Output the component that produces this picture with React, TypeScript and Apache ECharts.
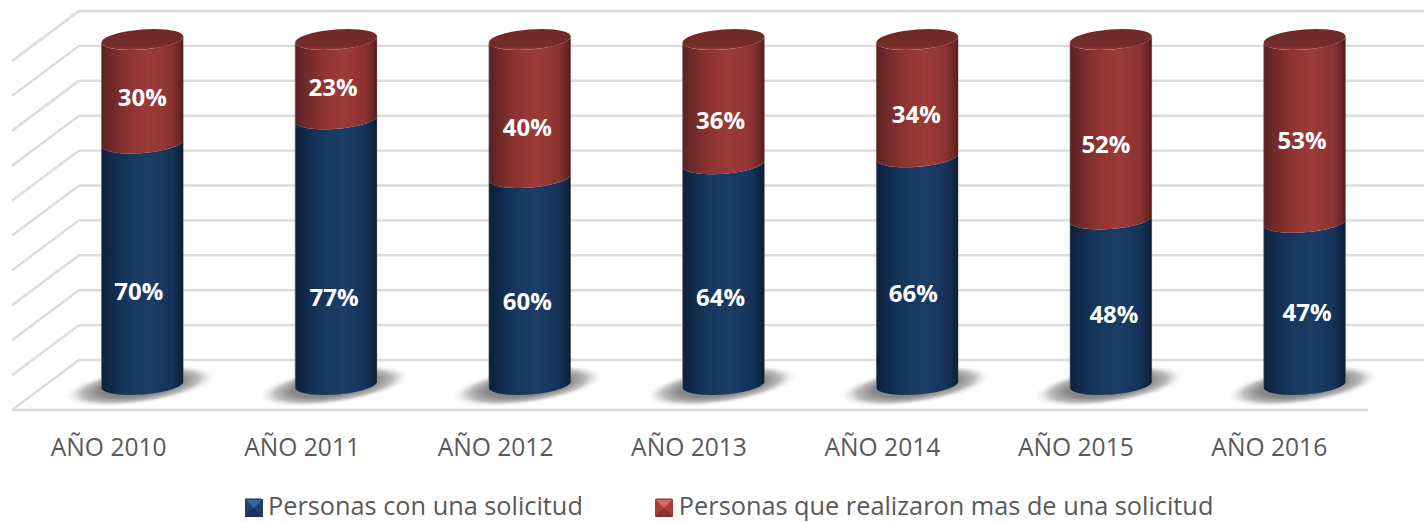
import React, { useEffect, useRef } from "react";
import * as echarts from "echarts";

const categories = ["AÑO 2010", "AÑO 2011", "AÑO 2012", "AÑO 2013", "AÑO 2014", "AÑO 2015", "AÑO 2016"];
const oneRequest = [70, 77, 60, 64, 66, 48, 47];
const severalRequests = [30, 23, 40, 36, 34, 52, 53];
const wallTicks = [0, 10, 20, 30, 40, 50, 60, 70, 80, 90, 100];
const seriesNames = ["Personas con una solicitud", "Personas que realizaron mas de una solicitud"];

// Hand placement of the data labels relative to the segment's middle (px)
const blueNudge = [[-3.5, 27], [-2, 45], [-2.5, 19], [-3, 22], [-4, 22], [3, 12], [2.5, 8]];
const redNudge = [[0, 5], [-3, 7], [-2.5, 17.5], [-3, 18], [-1, 15], [-5, 14], [-2.5, 9]];

const FONT = "'Open Sans'";
const TILT = 4.5;
const RAD = (TILT * Math.PI) / 180;
const WALL_DX = 69;
const WALL_DY = 50;
const FLOOR_EXTRA = 2;
const STEPS = 40;

const hGrad = (stops: string[]) => ({
  type: "linear", x: 0, y: 0, x2: 1, y2: 0,
  colorStops: stops.map((color, i) => ({ offset: [0, 0.12, 0.3, 0.58, 0.85, 0.95, 1][i], color })),
});
const blueGrad = hGrad(["#0c2138", "#10294a", "#16365c", "#1b3d66", "#15335a", "#102642", "#0b1c30"]);
const redGrad = hGrad(["#5a2220", "#6e2a28", "#8a3230", "#9d3b39", "#8b3331", "#6c2725", "#521c1a"]);

// A point on the tilted ellipse; a = 0 is the right end, a = PI the left end, 0..PI runs through the front
function rim(cx: number, cy: number, rx: number, ry: number, a: number) {
  const ex = rx * Math.cos(a);
  const ey = ry * Math.sin(a);
  return [cx + ex * Math.cos(RAD) + ey * Math.sin(RAD), cy - ex * Math.sin(RAD) + ey * Math.cos(RAD)];
}
function arcPoints(cx: number, cy: number, rx: number, ry: number, a0: number, a1: number) {
  const pts: number[][] = [];
  for (let k = 0; k <= STEPS; k++) pts.push(rim(cx, cy, rx, ry, a0 + ((a1 - a0) * k) / STEPS));
  return pts;
}

function cylinder(kind: "blue" | "red") {
  return (_p: any, api: any) => {
    const i = api.value(0);
    const from = api.value(1);
    const to = api.value(2);
    const cx = api.coord([i, 0])[0];
    const yBot = api.coord([i, from])[1];
    const yTop = api.coord([i, to])[1];
    const rx = api.size([1, 0])[0] * 0.2117;
    const ry = rx * 0.244;
    const nudge = (kind === "blue" ? blueNudge : redNudge)[i];
    const children: any[] = [];
    if (kind === "blue") {
      children.push({
        type: "ellipse",
        shape: { cx: 0, cy: 0, rx: rx * 1.9, ry: ry * 1.85 },
        x: cx - 2, y: yBot + 1.5, rotation: (8 * Math.PI) / 180,
        style: {
          fill: {
            type: "radial", x: 0.5, y: 0.5, r: 0.5,
            colorStops: [
              { offset: 0, color: "#707070" },
              { offset: 0.55, color: "#8a8a8a" },
              { offset: 0.76, color: "#bcbcbc" },
              { offset: 1, color: "rgba(255,255,255,0)" },
            ],
          },
        },
      });
    }
    const bodyPts = [...arcPoints(cx, yTop, rx, ry, Math.PI, 0), ...arcPoints(cx, yBot, rx, ry, 0, Math.PI)];
    children.push({
      type: "polygon",
      shape: { points: bodyPts },
      style: { fill: kind === "blue" ? blueGrad : redGrad },
    });
    const l0 = rim(cx, yTop, rx, ry, Math.PI);
    const l1 = rim(cx, yBot, rx, ry, Math.PI);
    const r0 = rim(cx, yTop, rx, ry, 0);
    const r1 = rim(cx, yBot, rx, ry, 0);
    children.push(
      { type: "line", shape: { x1: l0[0], y1: l0[1], x2: l1[0], y2: l1[1] }, style: { stroke: "rgba(110,110,110,0.6)", lineWidth: 1 } },
      { type: "line", shape: { x1: r0[0], y1: r0[1], x2: r1[0], y2: r1[1] }, style: { stroke: "rgba(110,110,110,0.35)", lineWidth: 1 } }
    );
    if (kind === "red") {
      children.push({
        type: "polygon",
        shape: { points: arcPoints(cx, yTop, rx, ry, 0, Math.PI * 2) },
        style: {
          fill: {
            type: "linear", x: 0, y: 0, x2: 0, y2: 1,
            colorStops: [
              { offset: 0, color: "#6e2a28" },
              { offset: 0.8, color: "#742c2a" },
              { offset: 0.93, color: "#8e3533" },
              { offset: 1, color: "#a33e3b" },
            ],
          },
        },
      });
    }
    children.push({
      type: "text",
      x: cx + nudge[0],
      y: (yBot + yTop) / 2 + nudge[1],
      style: {
        text: `${to - from}%`,
        fill: "#ffffff",
        font: `bold 24px ${FONT}`,
        align: "center",
        verticalAlign: "middle",
      },
    });
    return { type: "group", children };
  };
}

function wall(params: any, api: any) {
  const v = api.value(0);
  const y = api.coord([0, v])[1];
  const left = params.coordSys.x;
  const right = left + params.coordSys.width;
  const style = { stroke: "#dcdcdc", lineWidth: 2.4, fill: "none" };
  const children: any[] = [
    { type: "line", shape: { x1: left, y1: y, x2: left + 67, y2: y - WALL_DY }, style },
    { type: "line", shape: { x1: left + 67, y1: y - WALL_DY, x2: right + WALL_DX, y2: y - WALL_DY }, style },
  ];
  if (v === 0) {
    children.push({ type: "line", shape: { x1: left, y1: y, x2: right + FLOOR_EXTRA, y2: y }, style });
  }
  return { type: "group", children };
}

function bevel(x: number, y: number, s: number, c: string[]) {
  const tri = (pts: number[][], fill: string) => ({ type: "polygon", z: 100, shape: { points: pts }, style: { fill } });
  const mid = [x + s * 0.5, y + s * 0.5];
  return [
    tri([[x, y], [x + s, y], [x + s, y + s], [x, y + s]], c[1]),
    tri([[x, y + s], [x + s, y + s], mid], c[2]),
    tri([[x + 1, y + 1], [x + s - 1, y + 1], mid], c[0]),
  ];
}

export default function App() {
  const ref = useRef<HTMLDivElement>(null);
  useEffect(() => {
    const chart = echarts.init(ref.current!, undefined, { renderer: "svg" });
    const blueRows = oneRequest.map((v, i) => [i, 0, v]);
    const redRows = severalRequests.map((v, i) => [i, oneRequest[i], oneRequest[i] + v]);
    chart.setOption({
      animation: false,
      backgroundColor: "#ffffff",
      grid: [
        { left: 12, right: 58, top: 61, bottom: 112 },
        { left: 45.5, right: 22.5, top: 39.5, bottom: 137.5 },
      ],
      xAxis: [
        {
          type: "category", gridIndex: 0, data: categories,
          axisLine: { show: false },
          axisTick: { show: false },
          axisLabel: { color: "#595959", fontFamily: FONT, fontSize: 24.6, margin: 24 },
        },
        { type: "category", gridIndex: 1, data: categories, show: false },
      ],
      yAxis: [
        { type: "value", gridIndex: 0, min: 0, max: 100, interval: 10, show: false },
        { type: "value", gridIndex: 1, min: 0, max: 100, interval: 10, show: false },
      ],
      legend: {
        left: 245, top: 492, padding: 0, itemWidth: 16, itemHeight: 12, itemGap: 73,
        icon: "rect", data: seriesNames,
        textStyle: { color: "#595959", fontFamily: FONT, fontSize: 25.3, padding: [0, 0, 0, 2] },
      },
      graphic: [
        ...bevel(245, 499, 18, ["#3d6696", "#1f4068", "#173358"]),
        ...bevel(655, 499, 18, ["#d5665f", "#a53d3a", "#85302d"]),
      ],
      series: [
        {
          type: "custom", xAxisIndex: 0, yAxisIndex: 0, z: 1, clip: false, silent: true,
          data: wallTicks.map((v) => [v]), renderItem: wall, encode: { y: 0 },
        },
        {
          type: "custom", name: seriesNames[0], xAxisIndex: 1, yAxisIndex: 1, z: 3, clip: false,
          itemStyle: { color: "#17375e" }, data: blueRows, renderItem: cylinder("blue"),
          encode: { x: 0, y: [1, 2] },
        },
        {
          type: "custom", name: seriesNames[1], xAxisIndex: 1, yAxisIndex: 1, z: 4, clip: false,
          itemStyle: { color: "#953735" }, data: redRows, renderItem: cylinder("red"),
          encode: { x: 0, y: [1, 2] },
        },
      ],
    });
    return () => chart.dispose();
  }, []);
  return <div ref={ref} style={{ position: "absolute", left: 0, top: 0, width: 1424, height: 522 }} />;
}
